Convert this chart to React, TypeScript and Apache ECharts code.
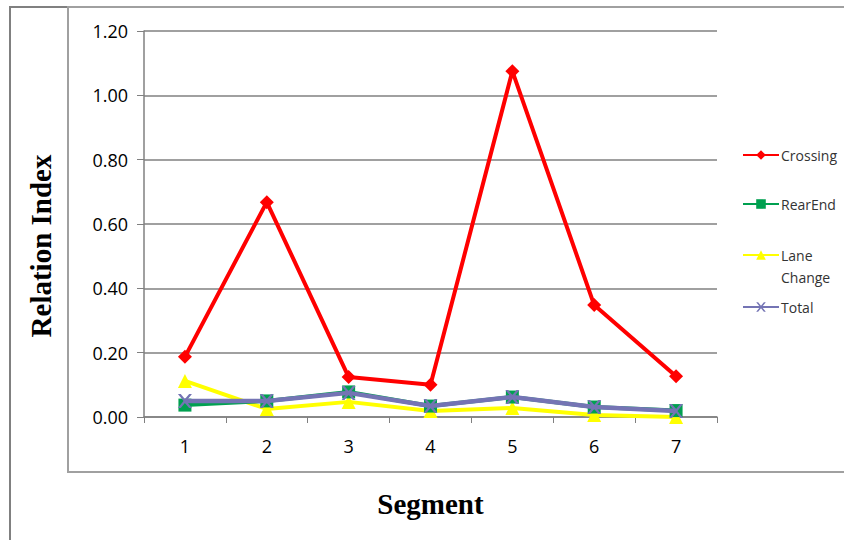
import React, { useEffect, useRef } from "react";
import * as echarts from "echarts";

const categories = ["1", "2", "3", "4", "5", "6", "7"];
const crossing = [0.187, 0.668, 0.124, 0.1, 1.075, 0.348, 0.127];
const rearEnd = [0.037, 0.05, 0.078, 0.034, 0.062, 0.031, 0.02];
const laneChange = [0.112, 0.025, 0.047, 0.019, 0.028, 0.006, 0.0];
const total = [0.05, 0.05, 0.075, 0.034, 0.062, 0.031, 0.019];
const yTicks = { min: 0, max: 1.2, interval: 0.2 };

const X_PATH = "path://M0,0 L2,0 L5,3.6 L8,0 L10,0 L6,5 L10,10 L8,10 L5,6.4 L2,10 L0,10 L4,5 Z";

export default function App() {
  const ref = useRef<HTMLDivElement>(null);
  useEffect(() => {
    document.body.style.margin = "0";
    const chart = echarts.init(ref.current!, undefined, { renderer: "svg" });
    const tickFont = { fontFamily: "Open Sans", fontSize: 18, color: "#000" };
    const legendText = { fontFamily: "Open Sans", fontSize: 14, color: "#333" };
    const mkLegend = (name: string, top: number, extra: any = {}) => ({
      data: [name],
      left: 742,
      top,
      orient: "vertical",
      itemWidth: 36,
      itemHeight: 12,
      itemGap: 0,
      padding: 0,
      textStyle: { ...legendText, padding: [0, 0, 0, -3], ...(extra.textStyle || {}) },
      formatter: extra.formatter,
      selectedMode: false,
    });
    chart.setOption({
      animation: false,
      backgroundColor: "#fff",
      graphic: [
        { type: "rect", shape: { x: 10, y: 7, width: 900, height: 600 }, style: { fill: "none", stroke: "#808080", lineWidth: 2 } },
        { type: "rect", shape: { x: 68, y: 7, width: 900, height: 465 }, style: { fill: "none", stroke: "#a0a0a0", lineWidth: 2 } },
        {
          type: "text", x: 41, y: 246, rotation: Math.PI / 2,
          style: { text: "Relation Index", fontFamily: "Liberation Serif", fontWeight: "bold", fontSize: 29, fill: "#000", textAlign: "center", textVerticalAlign: "middle" },
        },
      ],
      grid: { left: 144, top: 31, right: 127, bottom: 123 },
      legend: [
        mkLegend("Crossing", 148),
        mkLegend("RearEnd", 197),
        mkLegend("Lane Change", 222, { formatter: () => "\nLane\nChange", textStyle: { lineHeight: 22 } }),
        mkLegend("Total", 300),
      ],
      xAxis: {
        type: "category",
        data: categories,
        boundaryGap: true,
        name: "Segment",
        nameLocation: "middle",
        nameGap: 72,
        nameTextStyle: { fontFamily: "Liberation Serif", fontWeight: "bold", fontSize: 29, color: "#000" },
        axisLine: { lineStyle: { color: "#808080", width: 1.5 } },
        axisTick: { show: true, length: 6, alignWithLabel: false, lineStyle: { color: "#808080" } },
        axisLabel: { ...tickFont, margin: 20 },
        splitLine: { show: false },
      },
      yAxis: {
        type: "value",
        min: yTicks.min,
        max: yTicks.max,
        interval: yTicks.interval,
        axisLine: { show: true, lineStyle: { color: "#808080", width: 1.5 } },
        axisTick: { show: true, length: 7, inside: false, lineStyle: { color: "#808080" } },
        axisLabel: { ...tickFont, margin: 16, formatter: (v: number) => v.toFixed(2) },
        splitLine: { show: true, lineStyle: { color: "#808080", width: 1.5 } },
      },
      series: [
        {
          name: "Crossing", type: "line", data: crossing, symbol: "diamond", symbolSize: 14,
          lineStyle: { color: "#ff0000", width: 4 }, itemStyle: { color: "#ff0000" }, z: 5,
        },
        {
          name: "RearEnd", type: "line", data: rearEnd, symbol: "rect", symbolSize: 13,
          lineStyle: { color: "#00a050", width: 4 }, itemStyle: { color: "#00a050" }, z: 2,
        },
        {
          name: "Lane Change", type: "line", data: laneChange, symbol: "triangle", symbolSize: 14,
          lineStyle: { color: "#ffff00", width: 4 }, itemStyle: { color: "#ffff00" }, z: 1,
        },
        {
          name: "Total", type: "line", data: total, symbol: X_PATH, symbolSize: 14,
          lineStyle: { color: "#7474b4", width: 4.5 }, itemStyle: { color: "#7474b4" }, z: 3,
        },
      ],
    });
    return () => chart.dispose();
  }, []);
  return <div ref={ref} style={{ width: 844, height: 540 }} />;
}
